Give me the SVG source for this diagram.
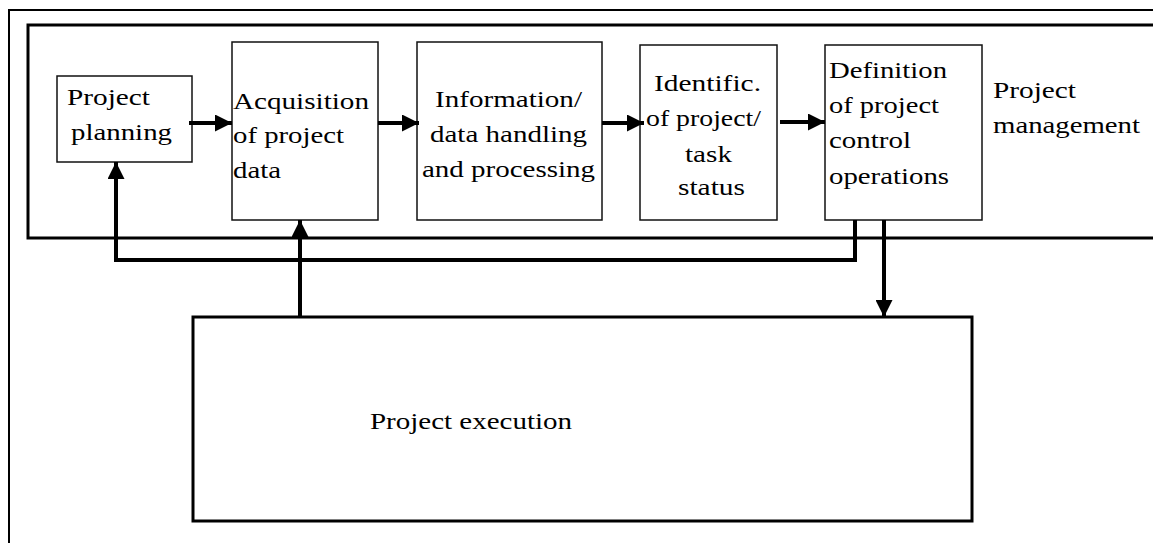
<svg xmlns="http://www.w3.org/2000/svg" width="1153" height="543" viewBox="0 0 1153 543">
  <style>
    .frame { fill: none; stroke: #000; }
    .box { fill: #fff; stroke: #111; stroke-width: 1.5; }
    .exec { fill: #fff; stroke: #000; stroke-width: 3; }
    .wire { fill: none; stroke: #000; stroke-width: 4; }
    text { font-size: 23.5px; fill: #000; }
  </style>
  <defs>
    <marker id="head" viewBox="0 0 10 10" refX="10" refY="5" markerUnits="userSpaceOnUse"
            markerWidth="18" markerHeight="17" orient="auto">
      <path d="M0,0 L10,5 L0,10 Z" fill="#000"/>
    </marker>
  </defs>
  <rect width="1153" height="543" fill="#fff"/>

  <!-- outer page frame -->
  <path class="frame" d="M9,550 V10 H1160" stroke-width="2"/>
  <!-- project management band -->
  <path class="frame" d="M1160,25 H28 V238 H1160" stroke-width="3"/>

  <g font-family="Liberation Serif, Times New Roman, Times, serif">
  <g id="project-planning">
    <rect class="box" x="57" y="76" width="135" height="86"/>
    <text x="67" y="105" textLength="83" lengthAdjust="spacingAndGlyphs">Project</text>
    <text x="71" y="140" textLength="101" lengthAdjust="spacingAndGlyphs">planning</text>
  </g>

  <g id="acquisition">
    <rect class="box" x="232" y="42" width="146" height="178"/>
    <text x="233" y="109" textLength="136" lengthAdjust="spacingAndGlyphs">Acquisition</text>
    <text x="233" y="143" textLength="111" lengthAdjust="spacingAndGlyphs">of project</text>
    <text x="233" y="178" textLength="48" lengthAdjust="spacingAndGlyphs">data</text>
  </g>

  <g id="information">
    <rect class="box" x="417" y="42" width="185" height="178"/>
    <text x="435" y="107" textLength="147" lengthAdjust="spacingAndGlyphs">Information/</text>
    <text x="430" y="142" textLength="157" lengthAdjust="spacingAndGlyphs">data handling</text>
    <text x="422" y="177" textLength="173" lengthAdjust="spacingAndGlyphs">and processing</text>
  </g>

  <g id="identification">
    <rect class="box" x="640" y="45" width="137" height="175"/>
    <text x="654" y="91" textLength="107" lengthAdjust="spacingAndGlyphs">Identific.</text>
    <text x="646" y="126" textLength="115" lengthAdjust="spacingAndGlyphs">of project/</text>
    <text x="685" y="162" textLength="47" lengthAdjust="spacingAndGlyphs">task</text>
    <text x="678" y="195" textLength="67" lengthAdjust="spacingAndGlyphs">status</text>
  </g>

  <g id="definition">
    <rect class="box" x="825" y="45" width="157" height="175"/>
    <text x="829" y="78" textLength="118" lengthAdjust="spacingAndGlyphs">Definition</text>
    <text x="829" y="113" textLength="110" lengthAdjust="spacingAndGlyphs">of project</text>
    <text x="829" y="148" textLength="82" lengthAdjust="spacingAndGlyphs">control</text>
    <text x="829" y="184" textLength="120" lengthAdjust="spacingAndGlyphs">operations</text>
  </g>

  <g id="management-label">
    <text x="993" y="98" textLength="83" lengthAdjust="spacingAndGlyphs">Project</text>
    <text x="993" y="133" textLength="147" lengthAdjust="spacingAndGlyphs">management</text>
  </g>

  <g id="execution">
    <rect class="exec" x="193" y="317" width="779" height="204"/>
    <text x="370" y="429" textLength="202" lengthAdjust="spacingAndGlyphs">Project execution</text>
  </g>
  </g>

  <g id="connectors">
    <path class="wire" d="M189,123 H232" marker-end="url(#head)"/>
    <path class="wire" d="M378,123 H419" marker-end="url(#head)"/>
    <path class="wire" d="M602,123 H644" marker-end="url(#head)"/>
    <path class="wire" d="M780,122 H825" marker-end="url(#head)"/>
    <!-- feedback to planning -->
    <path class="wire" d="M855,220 V260 H116 V162" marker-end="url(#head)"/>
    <!-- control operations down to execution -->
    <path class="wire" d="M884,220 V317" marker-end="url(#head)"/>
    <!-- execution data up to acquisition -->
    <path class="wire" d="M300,317 V220" marker-end="url(#head)"/>
  </g>
</svg>
